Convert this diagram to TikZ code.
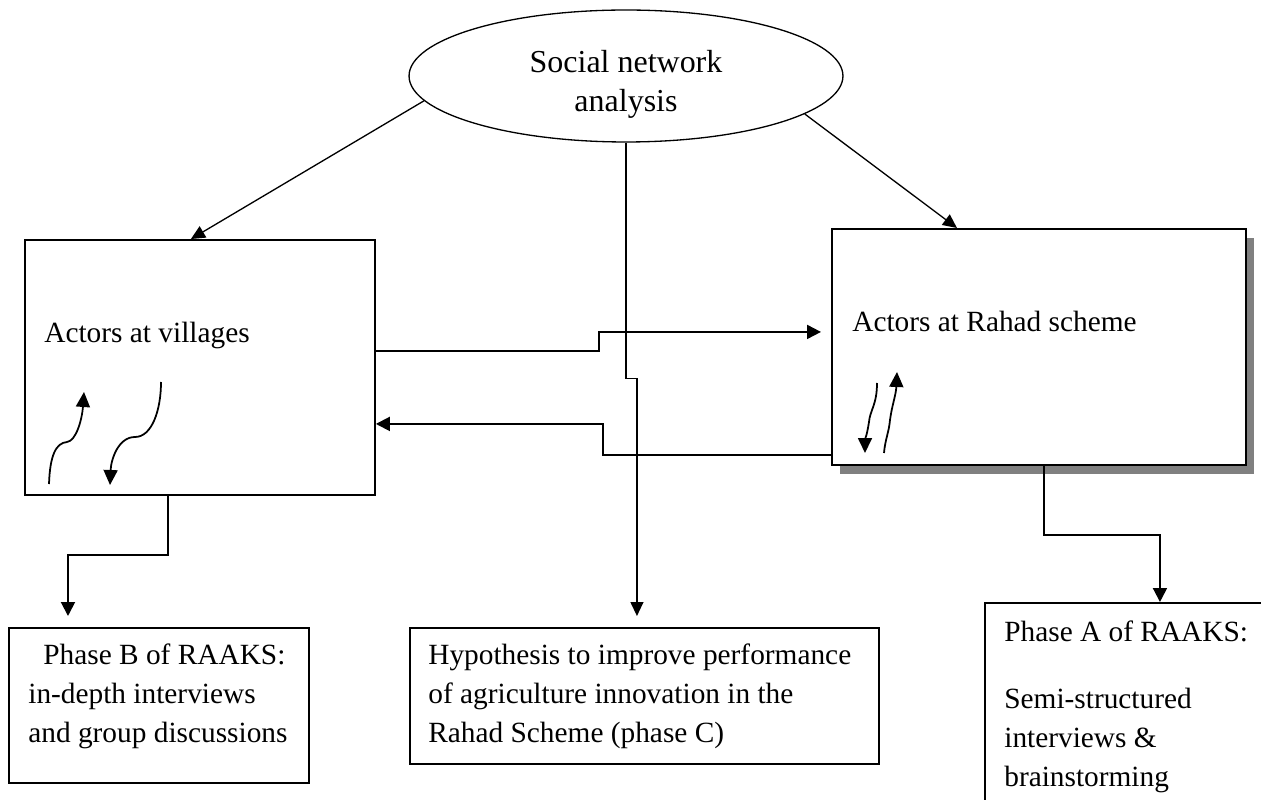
\documentclass[tikz,border=0pt]{standalone}
\usepackage{fontspec}
\setmainfont{Liberation Serif}
\usetikzlibrary{arrows.meta,shapes.geometric,shadows}

\begin{document}
\begin{tikzpicture}[
    x=0.02cm,
    y=-0.02cm,
    line cap=butt,
    every node/.style={font=\fontsize{16.7}{22.2}\selectfont, inner sep=0pt},
    box/.style={draw, fill=white, rectangle, line width=1.1pt, anchor=north west},
    textblock/.style={anchor=north west, align=left},
    thinarrow/.style={line width=0.75pt, -{Triangle[length=0.28cm,width=0.26cm]}},
    boxarrow/.style={line width=1.1pt, -{Triangle[length=0.28cm,width=0.28cm]}},
    wiggle/.style={line width=1pt, -{Triangle[length=0.3cm,width=0.28cm]}}
]
\useasboundingbox (0,0) rectangle (1261,800);
\clip (0,0) rectangle (1261,800);

% Ellipse at the top
\node[draw, ellipse, line width=0.75pt, minimum width=8.68cm, minimum height=2.64cm] (sna) at (626,76) {};
\node[align=center, anchor=north, font=\fontsize{18.2}{22.2}\selectfont] (snatext) at (626,50) {Social network\\analysis};

% Actor boxes
\node[box, minimum width=7cm, minimum height=5.1cm] (villages) at (24,239) {};
\node[box, minimum width=8.28cm, minimum height=4.72cm,
      drop shadow={shadow xshift=0.16cm, shadow yshift=-0.18cm, fill=gray, opacity=1}]
      (rahad) at (831,228) {};

\node[textblock] (villtext) at (44,322) {Actors at villages};
\node[textblock] (rahadtext) at (852,311) {Actors at Rahad scheme};

% Result boxes
\node[box, minimum width=6cm, minimum height=3.1cm] (phaseB) at (8,627) {};
\node[box, minimum width=9.38cm, minimum height=2.72cm] (hyp) at (409,627) {};
\node[box, minimum width=6cm, minimum height=4.4cm] (phaseA) at (984,602) {};

\node[textblock] (phaseBtext) at (28,643)
    {\hspace*{0.3cm}Phase B of RAAKS:\\in-depth interviews\\and group discussions};
\node[textblock] (hyptext) at (428,643)
    {Hypothesis to improve performance\\of agriculture innovation in the\\Rahad Scheme (phase C)};
\node[textblock] (phaseAtext) at (1004,620)
    {Phase A of RAAKS:\\[0.56cm]Semi-structured\\interviews \&\\brainstorming};

% From the ellipse
\draw[thinarrow] (sna.187) -- ([xshift=3.34cm]villages.north west);
\draw[thinarrow] (sna.348) -- ([xshift=2.52cm]rahad.north west);
\draw[thinarrow] (sna.south) -- ++(0,236) -| ([xshift=4.56cm,yshift=0.22cm]hyp.north west);

% Between the actor boxes
\draw[boxarrow] ([yshift=0.33cm]villages.east) -- ++(223,0) |- ([xshift=-0.2cm,yshift=0.3cm]rahad.west);
\draw[boxarrow] ([yshift=-2.16cm]rahad.west) -- ++(-228,0) |- ([yshift=-1.13cm]villages.east);

% Down to the phases
\draw[boxarrow] ([xshift=-0.64cm]villages.south) -- ++(0,59) -| ([xshift=1.2cm,yshift=0.22cm]phaseB.north west);
\draw[boxarrow] ([xshift=0.1cm]rahad.south) -- ++(0,69) -| ([xshift=3.52cm]phaseA.north west);

% Little arrows inside the actor boxes
\draw[wiggle] (49,484) .. controls (50,455) and (56,443) .. (67,442)
              .. controls (76,441) and (82,420) .. (84,392);
\draw[wiggle] (161,382) .. controls (161,410) and (152,437) .. (135,437)
              .. controls (118,437) and (111,460) .. (110,485);
\draw[wiggle] (877,383) .. controls (877,405) and (870,410) .. (869,422)
              .. controls (867,435) and (865,440) .. (865,453);
\draw[wiggle] (884,453) .. controls (885,440) and (889,432) .. (890,420)
              .. controls (892,405) and (896,395) .. (897,372);

\end{tikzpicture}
\end{document}
